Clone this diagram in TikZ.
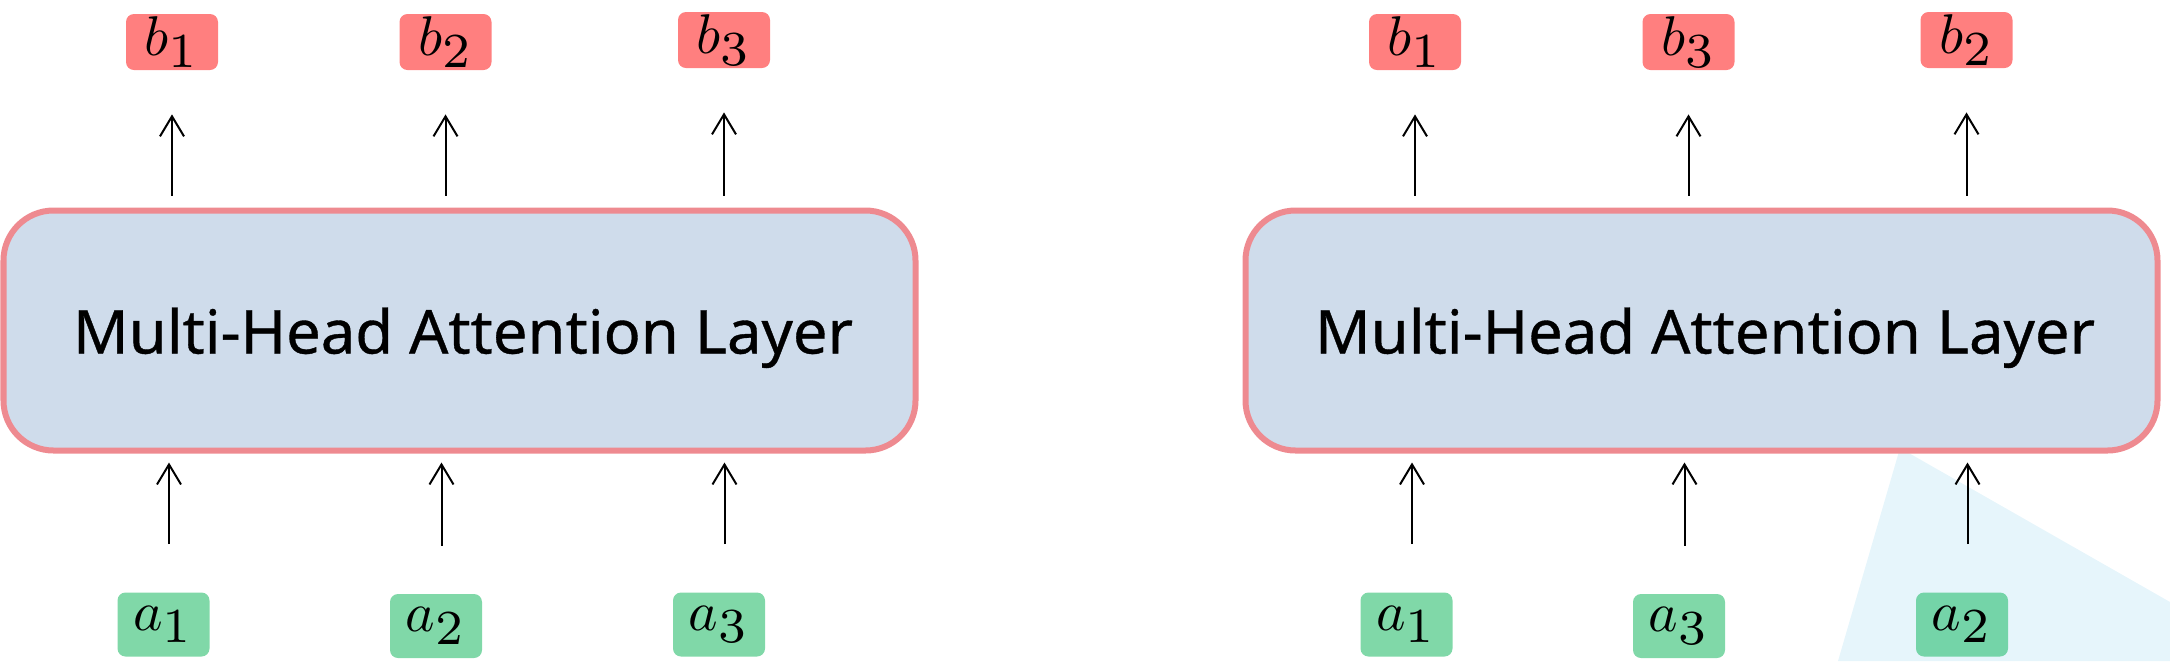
\documentclass[tikz,border=0pt]{standalone}
\usepackage{graphicx}
\usepackage{fontspec}
\setmainfont{Noto Sans}
\usetikzlibrary{arrows.meta}
\definecolor{bfill}{HTML}{FF7F7F}
\definecolor{afill}{HTML}{80D8A8}
\definecolor{afilldark}{HTML}{74D4A8}
\definecolor{layerfill}{HTML}{CFDCEB}
\definecolor{layerline}{HTML}{EE8A90}
\definecolor{trifill}{HTML}{E6F5FB}
\tikzset{
  outbox/.style={fill=bfill, rounded corners=4pt, minimum width=46pt, minimum height=28pt, inner sep=0pt},
  inbox/.style={fill=afill, rounded corners=4pt, minimum width=46pt, minimum height=32pt, inner sep=0pt},
  layer/.style={draw=layerline, line width=3pt, fill=layerfill, rounded corners=25pt,
    minimum width=456pt, minimum height=120pt, inner sep=0pt, text height=23pt, text depth=0pt},
  arr/.style={line width=1pt, -{Straight Barb[length=10pt,width=12pt,line width=1pt]}},
  inarrow/.style={arr, shorten <=24pt, shorten >=4.5pt},
  outarrow/.style={arr, shorten <=6pt, shorten >=22pt}
}
\newcommand{\lay}{\resizebox{390pt}{23pt}{\fontspec{Noto Sans}[FakeBold=0.6]Multi-Head Attention Layer}}
\newcommand{\sym}[2]{\scalebox{2.8}{$#1_{\scalebox{1.25}{$\scriptstyle #2$}}$}}
\begin{document}
\begin{tikzpicture}[x=0.5pt,y=-0.5pt]
\useasboundingbox (0,0) rectangle (2170,661);
% light triangle in the lower right
\fill[trifill] (1900,448) -- (1838,661) -- (2170,661) -- (2170,602) -- cycle;

% left panel
\node[layer] (L) at (459.5,330.5) {\hspace*{3.5pt}\lay};
\node[outbox] (Lb1) at (172,42) {\sym{b}{1}};
\node[outbox] (Lb2) at (445.5,42) {\sym{b}{2}};
\node[outbox] (Lb3) at (724,40) {\sym{b}{3}};
\node[inbox] (La1) at (163.5,624.5) {\sym{a}{1}};
\node[inbox] (La2) at (436,626) {\sym{a}{2}};
\node[inbox] (La3) at (719,624.5) {\sym{a}{3}};

% right panel
\node[layer] (R) at (1701.5,330.5) {\hspace*{3.5pt}\lay};
\node[outbox] (Rb1) at (1415,42) {\sym{b}{1}};
\node[outbox] (Rb3) at (1688.5,42) {\sym{b}{3}};
\node[outbox] (Rb2) at (1966.5,40) {\sym{b}{2}};
\node[inbox] (Ra1) at (1406.5,624.5) {\sym{a}{1}};
\node[inbox] (Ra3) at (1679,626) {\sym{a}{3}};
\node[inbox, fill=afilldark] (Ra2) at (1962,624.5) {\sym{a}{2}};

% input arrows
\foreach \n/\m in {La1/L, La2/L, La3/L, Ra1/R, Ra3/R, Ra2/R}{
  \draw[inarrow] ([xshift=2.75pt]\n.north) -- ([xshift=2.75pt]\n.north |- \m.south);
}
% output arrows
\foreach \n/\m in {Lb1/L, Lb2/L, Lb3/L, Rb1/R, Rb3/R, Rb2/R}{
  \draw[outarrow] (\n.south |- \m.north) -- (\n.south);
}
\end{tikzpicture}
\end{document}
